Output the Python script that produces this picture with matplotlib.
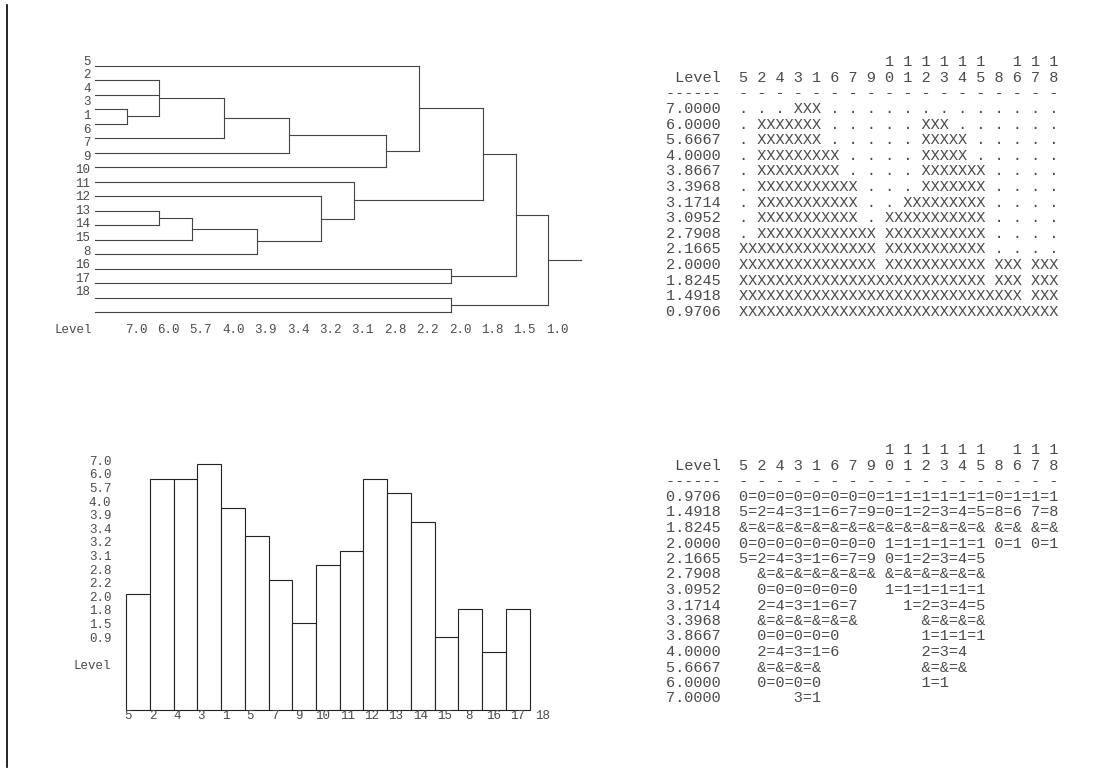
import matplotlib
matplotlib.use('Agg')
import matplotlib.pyplot as plt
from matplotlib.lines import Line2D
from matplotlib.transforms import offset_copy

plt.rcParams['font.family'] = ['Liberation Mono', 'DejaVu Sans Mono']

W, H = 1097, 769

# leaf order of the tree (top to bottom) and the level scale
leaf_labels = ['5', '2', '4', '3', '1', '6', '7', '9', '10', '11', '12', '13', '14', '15', '8', '16', '17', '18']
axis_levels = ['7.0', '6.0', '5.7', '4.0', '3.9', '3.4', '3.2', '3.1', '2.8', '2.2', '2.0', '1.8', '1.5', '1.0']
table_levels = ['7.0000', '6.0000', '5.6667', '4.0000', '3.8667', '3.3968', '3.1714',
                '3.0952', '2.7908', '2.1665', '2.0000', '1.8245', '1.4918', '0.9706']

# merges: children (leaf row or earlier merge mN) and joining level
merges = [
    ([3, 4], '7.0'),
    ([1, 2, 'm0'], '6.0'),
    (['m1', 5], '4.0'),
    (['m2', 6], '3.4'),
    (['m3', 7], '2.8'),
    ([0, 'm4'], '2.2'),
    ([10, 11], '6.0'),
    (['m6', 12], '5.7'),
    (['m7', 13], '3.9'),
    ([9, 'm8'], '3.2'),
    ([8, 'm9'], '3.1'),
    (['m5', 'm10'], '1.8'),
    ([14, 15], '2.0'),
    (['m11', 'm12'], '1.5'),
    ([16, 17], '2.0'),
    (['m13', 'm14'], '1.0'),
]

# level at which neighbouring leaves join (bar chart)
pair_levels = ['2.2', '6.0', '6.0', '7.0', '4.0', '3.4', '2.8', '1.8', '3.1',
               '3.2', '6.0', '5.7', '3.9', '1.5', '2.0', '1.0', '2.0']
bar_ticks = ['5', '2', '4', '3', '1', '5', '7', '9', '10', '11', '12', '13', '14', '15', '8', '16', '17', '18']
bar_axis_labels = ['7.0', '6.0', '5.7', '4.0', '3.9', '3.4', '3.2', '3.1', '2.8', '2.2', '2.0', '1.8', '1.5', '0.9']

# lower right listing, as printed
bot_rows = [
    '0.9706  0=0=0=0=0=0=0=0=1=1=1=1=1=1=0=1=1=1',
    '1.4918  5=2=4=3=1=6=7=9=0=1=2=3=4=5=8=6 7=8',
    '1.8245  &=&=&=&=&=&=&=&=&=&=&=&=&=& &=& &=&',
    '2.0000  0=0=0=0=0=0=0=0 1=1=1=1=1=1 0=1 0=1',
    '2.1665  5=2=4=3=1=6=7=9 0=1=2=3=4=5',
    '2.7908    &=&=&=&=&=&=& &=&=&=&=&=&',
    '3.0952    0=0=0=0=0=0   1=1=1=1=1=1',
    '3.1714    2=4=3=1=6=7     1=2=3=4=5',
    '3.3968    &=&=&=&=&=&       &=&=&=&',
    '3.8667    0=0=0=0=0         1=1=1=1',
    '4.0000    2=4=3=1=6         2=3=4',
    '5.6667    &=&=&=&           &=&=&',
    '6.0000    0=0=0=0           1=1',
    '7.0000        3=1',
]

LINE = '#444444'
TXT = '#4a4a4a'
FS = 9
TFS = 11


def box(x0, y0, x1, y1):
    return [x0 / W, 1 - y1 / H, (x1 - x0) / W, (y1 - y0) / H]


fig = plt.figure(figsize=(W / 100, H / 100), dpi=100)
fig.patch.set_facecolor('white')

# left border line
fig.add_artist(Line2D([7.3 / W, 7.3 / W], [1 - 5 / H, 1 - 767 / H], color='black', lw=1.2))

# ---- dendrogram ----
ax = fig.add_axes(box(94.6, 58.25, 580.6, 319.25))
ax.set_xlim(-1, 14)
ax.set_ylim(17.5, -0.5)
ax.axis('off')

pos = {}
for i in range(len(leaf_labels)):
    pos[i] = (-1, i)
for n, (kids, lev) in enumerate(merges):
    k = axis_levels.index(lev)
    ys = []
    for c in kids:
        cx, cy = pos[c]
        ax.plot([cx, k], [cy, cy], color=LINE, lw=0.8, clip_on=False)
        ys.append(cy)
    ax.plot([k, k], [min(ys), max(ys)], color=LINE, lw=0.8, clip_on=False)
    pos['m%d' % n] = (k, (min(ys) + max(ys)) / 2)
rx, ry = pos['m%d' % (len(merges) - 1)]
ax.plot([rx, rx + 1], [ry, ry], color=LINE, lw=0.8, clip_on=False)

lab_tr = offset_copy(ax.transData, fig=fig, x=-4, y=0, units='dots')
for i, lbl in enumerate(leaf_labels):
    ax.text(-1, -0.26 + 0.935 * i, lbl, ha='right', va='center', fontsize=FS,
            color=TXT, transform=lab_tr, clip_on=False)

lev_tr = offset_copy(ax.transData, fig=fig, x=9, y=0, units='dots')
for k, lbl in enumerate(axis_levels):
    ax.text(k, 18.24, lbl, ha='center', va='center', fontsize=FS, color=TXT,
            transform=lev_tr, clip_on=False)
ax.text(-2.25, 18.24, 'Level', ha='left', va='center', fontsize=FS, color=TXT, clip_on=False)

# ---- bar chart ----
BASE = len(axis_levels) + 3
bx = fig.add_axes(box(126.3, 464.3, 529.5, 709.5))
bx.set_xlim(0, len(pair_levels))
bx.set_ylim(0, BASE)
bx.axis('off')
heights = [BASE - axis_levels.index(v) for v in pair_levels]
bx.bar(range(len(pair_levels)), heights, width=1, align='edge', color='white',
       edgecolor='#222222', lw=0.8, clip_on=False)

ylab_tr = offset_copy(bx.transData, fig=fig, x=-15, y=0, units='dots')
for j, lbl in enumerate(bar_axis_labels):
    bx.text(0, BASE + 0.17 - 0.943 * j, lbl, ha='right', va='center', fontsize=FS,
            color=TXT, transform=ylab_tr, clip_on=False)
bx.text(0, 3.02, 'Level', ha='right', va='center', fontsize=FS, color=TXT,
        transform=ylab_tr, clip_on=False)
for i, lbl in enumerate(bar_ticks):
    bx.text(0.084 + 1.0265 * i, -0.45, lbl, ha='center', va='center', fontsize=FS,
            color=TXT, clip_on=False)


# ---- text tables ----
def joined_at(r):
    return [axis_levels.index(v) <= r for v in pair_levels]


def members(joined):
    n = len(leaf_labels)
    return [(j > 0 and joined[j - 1]) or (j < n - 1 and joined[j]) for j in range(n)]


head1 = ' ' * 8 + ' '.join(l[0] if len(l) > 1 else ' ' for l in leaf_labels)
head2 = ' Level  ' + ' '.join(l[-1] for l in leaf_labels)
head3 = '------  ' + ' '.join('-' for _ in leaf_labels)

top_rows = []
for r, lev in enumerate(table_levels):
    jn = joined_at(r)
    mb = members(jn)
    s = ''
    for j in range(len(leaf_labels)):
        s += 'X' if mb[j] else '.'
        if j < len(leaf_labels) - 1:
            s += 'X' if jn[j] else ' '
    top_rows.append(lev + '  ' + s)


def draw_table(y_first, dy, rows):
    x0, cw = 666, 9.2
    tx = fig.add_axes(box(x0, y_first - 3.5 * dy, x0 + 44 * cw, y_first + 13.5 * dy))
    tx.set_xlim(0, 44)
    tx.set_ylim(13.5, -3.5)
    tx.axis('off')
    for r, s in enumerate([head1, head2, head3] + rows):
        tx.text(0, r - 3, s, ha='left', va='center', fontsize=TFS, color=TXT, clip_on=False)


draw_table(109, 15.6, top_rows)
draw_table(497, 15.5, bot_rows)

fig.savefig('out.png', dpi=100, facecolor='white')
